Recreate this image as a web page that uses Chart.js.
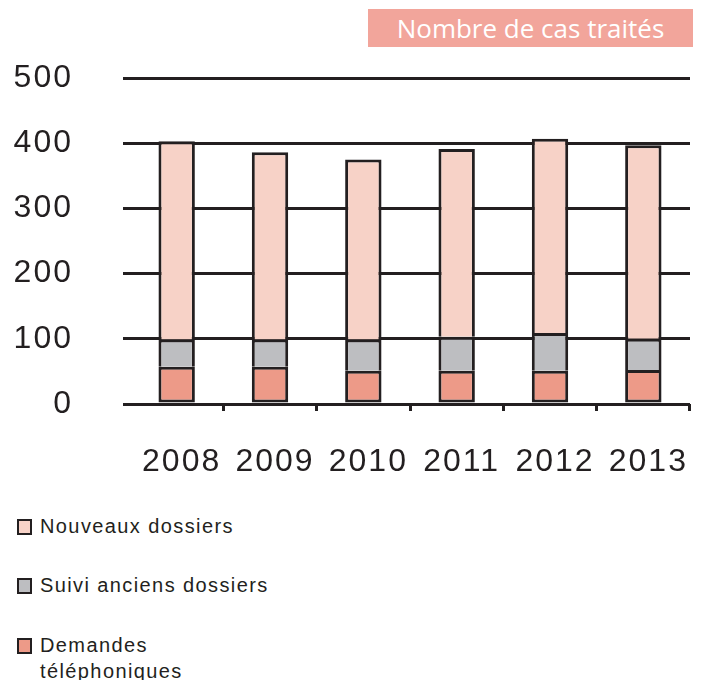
<!DOCTYPE html>
<html lang="fr">
<head>
<meta charset="utf-8">
<title>Nombre de cas traités</title>
<script src="https://cdn.jsdelivr.net/npm/chart.js@4.4.1/dist/chart.umd.min.js"></script>
<style>
  html, body { margin: 0; padding: 0; background: #fff; }
  body { width: 703px; height: 680px; position: relative; overflow: hidden; }
  #chart { position: absolute; left: 0; top: 0; }
  .title-box {
    position: absolute; left: 368px; top: 9px; width: 325px; height: 38px;
    background: #f2a59b; color: #fff;
    font-family: "Open Sans", sans-serif; font-size: 26px; line-height: 38px;
    text-align: center;
  }
  .legend { position: absolute; left: 0; top: 0; font-family: "Liberation Sans", Arial, sans-serif; color: #231f20; }
  .legend .item { position: absolute; left: 40px; font-size: 20px; letter-spacing: 1.4px; line-height: 26px; white-space: nowrap; }
  .legend .sw {
    position: absolute; left: -23px; top: 6px; width: 11px; height: 12px;
    border: 2px solid #231f20;
  }
</style>
</head>
<body>
<canvas id="chart" width="703" height="490"></canvas>
<div class="title-box">Nombre de cas traités</div>
<div class="legend" id="legend"></div>

<script>
// ── Data ──────────────────────────────────────────────────────────────────────
const YEARS = ['2008', '2009', '2010', '2011', '2012', '2013'];
const DEMANDES_TEL = [57, 57, 51, 51, 51, 52];
const SUIVI_ANCIENS = [42, 42, 48, 52, 58, 48];
const NOUVEAUX = [304, 287, 276, 288, 298, 297];
const Y_MIN = 0, Y_MAX = 500, Y_STEP = 100;

const INK = '#231f20';
const C_NOUVEAUX = '#f7d2c7';
const C_SUIVI = '#bdbec1';
const C_DEMANDES = '#ed9a88';

// ── Legend (top of list = top of stack) ───────────────────────────────────────
const LEGEND = [
  { label: 'Nouveaux dossiers', color: C_NOUVEAUX, top: 513 },
  { label: 'Suivi anciens dossiers', color: C_SUIVI, top: 572 },
  { label: 'Demandes<br>téléphoniques', color: C_DEMANDES, top: 632 },
];
const legendEl = document.getElementById('legend');
LEGEND.forEach(l => {
  const d = document.createElement('div');
  d.className = 'item';
  d.style.top = l.top + 'px';
  d.innerHTML = `<span class="sw" style="background:${l.color}"></span>${l.label}`;
  legendEl.appendChild(d);
});

// ── Chart ─────────────────────────────────────────────────────────────────────
const seg = (label, data, color, isBase) => ({
  label,
  data,
  backgroundColor: color,
  borderColor: INK,
  borderWidth: isBase ? 3 : { top: 3, left: 3, right: 3, bottom: 0 },
  borderSkipped: false,
  barPercentage: 0.39,
  categoryPercentage: 1,
});

// the source uses a wide, loosely set grotesque for the axis numbers
const wideLabels = {
  id: 'wideLabels',
  beforeDraw: chart => { chart.ctx.letterSpacing = '2px'; },
};

new Chart(document.getElementById('chart'), {
  type: 'bar',
  data: {
    labels: YEARS,
    datasets: [
      seg('Demandes téléphoniques', DEMANDES_TEL, C_DEMANDES, true),
      seg('Suivi anciens dossiers', SUIVI_ANCIENS, C_SUIVI, false),
      seg('Nouveaux dossiers', NOUVEAUX, C_NOUVEAUX, false),
    ],
  },
  plugins: [wideLabels],
  options: {
    responsive: false,
    devicePixelRatio: 1,
    animation: false,
    layout: { padding: { top: 78, right: 13, left: 0, bottom: 0 } },
    plugins: { legend: { display: false }, tooltip: { enabled: false }, title: { display: false } },
    scales: {
      x: {
        stacked: true,
        afterFit: s => { s.height = 86; s.paddingLeft = 0; s.paddingRight = 0; },
        border: { display: false },
        grid: {
          offset: true,
          drawOnChartArea: false,
          drawTicks: true,
          tickLength: 7,
          lineWidth: 3,
          color: c => (c.index === 0 || c.index === YEARS.length) ? 'rgba(0,0,0,0)' : INK,
        },
        ticks: { color: INK, padding: 32, labelOffset: 5, font: { family: 'Liberation Sans', size: 32 } },
      },
      y: {
        stacked: true,
        min: Y_MIN,
        max: Y_MAX,
        afterFit: s => { s.width = 130; s.paddingTop = 0; s.paddingBottom = 0; },
        border: { display: false },
        grid: { color: INK, lineWidth: 3, tickLength: 7 },
        ticks: { stepSize: Y_STEP, color: INK, padding: 50, font: { family: 'Liberation Sans', size: 32 } },
      },
    },
  },
});
</script>
</body>
</html>
